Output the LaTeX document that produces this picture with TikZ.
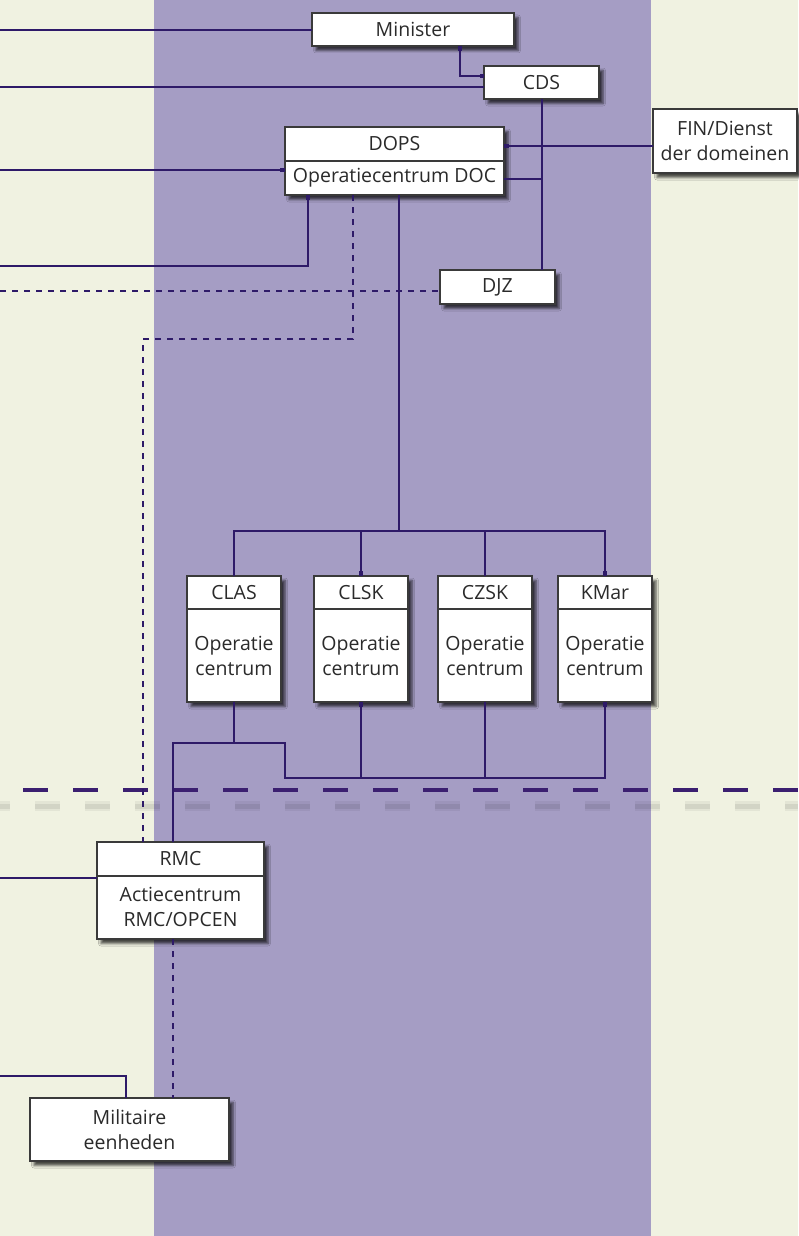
\documentclass[tikz,border=0pt]{standalone}
\usepackage{fontspec}
\setmainfont{Open Sans}
\usetikzlibrary{shadows.blur,arrows.meta}
\definecolor{cream}{HTML}{F0F2E1}
\definecolor{band}{HTML}{A59DC4}
\definecolor{ln}{HTML}{2E1A68}
\definecolor{sep}{HTML}{3B1F70}
\definecolor{bd}{HTML}{3A3A3A}
\definecolor{tx}{HTML}{2A2A2A}
\begin{document}
\begin{tikzpicture}[x=1pt,y=-1pt,
  txt/.style={text=tx, font=\fontsize{19.5}{25}\selectfont, align=center},
  box/.style={txt, draw=bd, line width=1.5pt, fill=white, inner sep=0pt, outer sep=0pt,
    blur shadow={shadow xshift=4pt, shadow yshift=-4.5pt, shadow blur radius=2.5pt, shadow opacity=70}},
  lbl/.style={txt, inner sep=0pt},
  divider/.style={draw=bd, line width=1.5pt},
  conn/.style={draw=ln, line width=2pt},
  dconn/.style={conn, line width=1.7pt, dash pattern=on 6pt off 6pt},
  sE/.style={-{Rectangle[length=5pt,width=4pt]}},
  sS/.style={{Rectangle[length=5pt,width=4pt]}-}]

% background
\fill[cream] (0,0) rectangle (798,1236);
\fill[band] (154,0) rectangle (651,1236);
\useasboundingbox (0,0) rectangle (798,1236);

% separator line with its soft shadow
\coordinate (sepL) at (0,790);
\coordinate (sepR) at (798,790);
\coordinate (shL) at (0,806);
\coordinate (shR) at (798,806);
\draw[line width=10pt, black, opacity=0.05, dash pattern=on 25pt off 25pt, dash phase=15pt] (shL) -- (shR);
\draw[line width=5pt, black, opacity=0.07, dash pattern=on 25pt off 25pt, dash phase=15pt] (shL) -- (shR);
\draw[line width=4pt, sep, dash pattern=on 25pt off 25pt, dash phase=27pt] (sepL) -- (sepR);

% single boxes
\node[box, minimum width=202pt, minimum height=33pt] (minister) at (413,29.5) {Minister};
\node[box, minimum width=115pt, minimum height=33pt] (cds) at (541.5,82.5) {CDS};
\node[box, minimum width=144pt, minimum height=64pt] (fin) at (725,141) {FIN/Dienst\\der domeinen};
\node[box, minimum width=115pt, minimum height=34pt] (djz) at (497.5,287) {DJZ};
\node[box, minimum width=199pt, minimum height=63pt] (mil) at (129.5,1129.5) {Militaire\\eenheden};

% two-part boxes
\node[box, minimum width=219pt, minimum height=68pt] (dops) at (394.5,161) {};
\node[lbl] (dopsT) at (394.5,144) {DOPS};
\node[lbl] (dopsB) at (394.5,178) {Operatiecentrum DOC};
\coordinate (y161) at (0,161);
\draw[divider] (y161 -| dops.west) -- (y161 -| dops.east);

\coordinate (y609) at (0,609);
\foreach \n/\t/\x in {clas/CLAS/234, clsk/CLSK/361, czsk/CZSK/485, kmar/KMar/605}{
  \node[box, minimum width=94pt, minimum height=126pt] (\n) at (\x,639) {};
  \node[lbl] (\n T) at (\x,592.5) {\t};
  \node[lbl] (\n B) at (\x,656) {Operatie\\centrum};
  \draw[divider] (y609 -| \n.west) -- (y609 -| \n.east);
}

\node[box, minimum width=167pt, minimum height=97pt] (rmc) at (180.5,890.5) {};
\node[lbl] (rmcT) at (180.5,859) {RMC};
\node[lbl] (rmcB) at (180.5,907) {Actiecentrum\\RMC/OPCEN};
\coordinate (y876) at (0,876);
\draw[divider] (y876 -| rmc.west) -- (y876 -| rmc.east);

% helper coordinates
\coordinate (l30) at (0,30);
\coordinate (l87) at (0,87);
\coordinate (y146) at (0,146);
\coordinate (l170) at (0,170);
\coordinate (y179) at (0,179);
\coordinate (l266) at (0,266);
\coordinate (l291) at (0,291);
\coordinate (x308) at (308,0);
\coordinate (d1) at (353,339);
\coordinate (d2) at (143,339);
\coordinate (bus) at (399,531);
\coordinate (b1) at (173,743);
\coordinate (b2) at (285,743);
\coordinate (b3) at (285,778);
\coordinate (l878) at (0,878);
\coordinate (l1076) at (0,1076);
\coordinate (x126) at (126,0);

% connectors
\draw[conn] (l30) -- (l30 -| minister.west);
\draw[conn, {Rectangle[length=5pt,width=4pt]}-{Rectangle[length=4pt,width=4pt]}] ([xshift=47pt]minister.south) |- ([yshift=6.5pt]cds.west);
\draw[conn] (l87) -- (l87 -| cds.west);
\draw[conn] (cds.south) -- (cds.south |- djz.north);
\draw[conn, sS] (y146 -| dops.east) -- (y146 -| fin.west);
\draw[conn] (y179 -| dops.east) -- (y179 -| cds.south);
\draw[conn, sE] (l170) -- (l170 -| dops.west);
\draw[conn, sE] (l266) -| (dops.south -| x308);
\draw[dconn] (l291) -- (l291 -| djz.west);
\draw[dconn] (dops.south -| d1) -- (d1) -- (d2) -- (rmc.north -| d2);

\draw[conn] (dops.south -| bus) -- (bus);
\draw[conn, sE] (clas.north) |- (bus) -| (kmar.north);
\draw[conn, sE] (clsk.north |- bus) -- (clsk.north);
\draw[conn] (czsk.north |- bus) -- (czsk.north);

\draw[conn, sE] (rmc.north -| b1) -- (b1) -- (b2) -- (b3) -| (kmar.south);
\draw[conn] (clas.south) -- (clas.south |- b1);
\draw[conn, sS] (clsk.south) -- (clsk.south |- b3);
\draw[conn] (czsk.south) -- (czsk.south |- b3);

\draw[conn] (l878) -- (l878 -| rmc.west);
\draw[dconn] (rmc.south -| b1) -- (mil.north -| b1);
\draw[conn] (l1076) -| (mil.north -| x126);
\end{tikzpicture}
\end{document}
